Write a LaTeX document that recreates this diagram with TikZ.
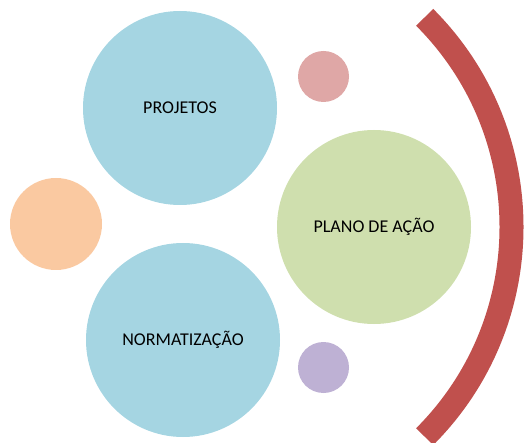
\documentclass[tikz,border=0pt]{standalone}
\usepackage{fontspec}
\setmainfont{Carlito}
\usepackage{tikz}
\usetikzlibrary{positioning}

\definecolor{bubbleblue}{HTML}{A5D5E2}
\definecolor{bubblegreen}{HTML}{CFDFAE}
\definecolor{bubbleorange}{HTML}{FAC9A1}
\definecolor{bubblepink}{HTML}{DFA7A6}
\definecolor{bubblepurple}{HTML}{BEB1D4}
\definecolor{arcred}{HTML}{C0504D}

\tikzset{
  bigbubble/.style={circle, inner sep=0pt, minimum size=194pt, font=\fontsize{18}{20}\selectfont},
  smallbubble/.style={circle, inner sep=0pt, minimum size=51pt},
}

\begin{document}
\begin{tikzpicture}[x=1pt, y=-1pt]
    \useasboundingbox (0,0) rectangle (524,443);

    % Main bubbles
    \node[bigbubble, fill=bubbleblue] (projetos) at (180,108) {PROJETOS};
    \node[bigbubble, fill=bubbleblue] (norma) at (183,340) {NORMATIZAÇÃO};
    \node[bigbubble, fill=bubblegreen] (plano) at (374,227) {PLANO DE AÇÃO};

    % Small bubbles
    \node[circle, inner sep=0pt, minimum size=92pt, fill=bubbleorange] (orange) at (56,224) {};
    \node[smallbubble, fill=bubblepink] (pink) at (323.5,76.5) {};
    \node[smallbubble, fill=bubblepurple] (purple) at (323.5,367.5) {};

    % Red arc
    \coordinate (hub) at (215,227);
    \draw[arcred, line width=24pt] ([shift={(45:296.5pt)}]hub)
        arc[start angle=45, end angle=-45, radius=296.5pt];
\end{tikzpicture}
\end{document}
